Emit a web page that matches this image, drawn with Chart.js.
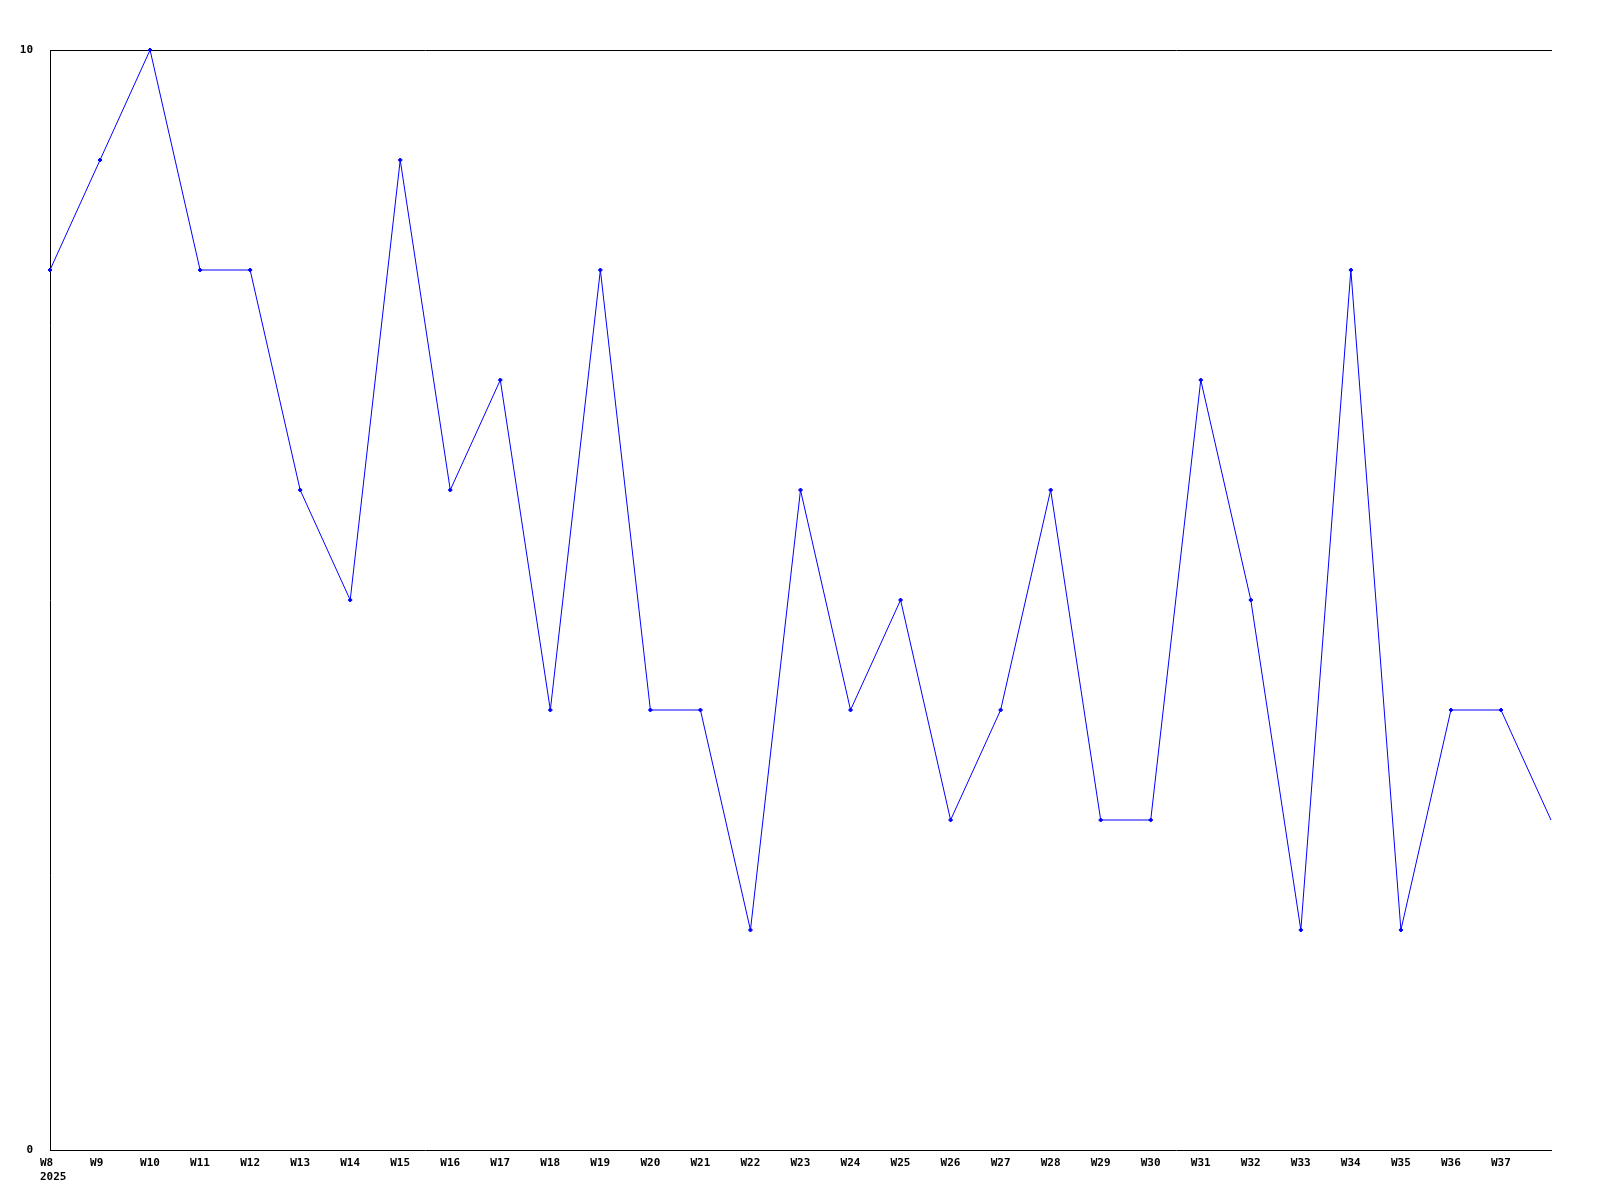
<!DOCTYPE html>
<html>
<head>
<meta charset="utf-8">
<script src="https://cdn.jsdelivr.net/npm/chart.js"></script>
<style>
  html, body { margin: 0; padding: 0; background: #fff; }
  canvas { display: block; }
</style>
</head>
<body>
<canvas id="c" width="1600" height="1200"></canvas>
<script>
// semanas (la última sin etiqueta ni marcador)
const weeks = ['W8','W9','W10','W11','W12','W13','W14','W15','W16','W17','W18','W19','W20','W21','W22',
  'W23','W24','W25','W26','W27','W28','W29','W30','W31','W32','W33','W34','W35','W36','W37','W38'];
const yearLabel = '2025';
const values = [8, 9, 10, 8, 8, 6, 5, 9, 6, 7, 4, 8, 4, 4, 2,
  6, 4, 5, 3, 4, 6, 3, 3, 7, 5, 2, 8, 2, 4, 4, 3];
const yMin = 0, yMax = 10;

const font = { family: '"DejaVu Sans Mono", monospace', size: 11, weight: 'bold', lineHeight: 1.2 };
const last = values.length - 1;

new Chart(document.getElementById('c'), {
  type: 'line',
  data: {
    labels: weeks,
    datasets: [{
      data: values,
      borderColor: '#0000ff',
      backgroundColor: '#0000ff',
      borderWidth: 1,
      tension: 0,
      pointStyle: 'rectRot',
      pointRadius: (ctx) => ctx.dataIndex === last ? 0 : 2,
      pointBorderWidth: (ctx) => ctx.dataIndex === last ? 0 : 1,
      clip: false
    }]
  },
  options: {
    responsive: false,
    animation: false,
    layout: { padding: { left: 0, right: 49, top: 0, bottom: 0 } },
    plugins: { legend: { display: false }, tooltip: { enabled: false } },
    scales: {
      x: {
        type: 'category',
        position: 'bottom',
        offset: false,
        grid: { display: false, drawTicks: false },
        border: { display: true, color: '#000', width: 1 },
        ticks: {
          color: '#000',
          font,
          autoSkip: false,
          maxRotation: 0,
          minRotation: 0,
          align: 'start',
          labelOffset: -10,
          padding: 7,
          callback: (v, i) => {
            if (i === last) return '';
            return i === 0 ? [weeks[i], yearLabel] : weeks[i];
          }
        },
        afterFit: (s) => { s.height = 50; }
      },
      xTop: {
        type: 'category',
        position: 'top',
        offset: false,
        grid: { display: false, drawTicks: false },
        border: { display: true, color: '#000', width: 1 },
        ticks: { display: false },
        afterFit: (s) => { s.height = 50; }
      },
      y: {
        min: yMin,
        max: yMax,
        grid: { display: false, drawTicks: false },
        border: { display: true, color: '#000', width: 1 },
        ticks: { stepSize: 10, color: '#000', font, padding: 17 },
        afterFit: (s) => { s.width = 50; }
      }
    }
  }
});
</script>
</body>
</html>
